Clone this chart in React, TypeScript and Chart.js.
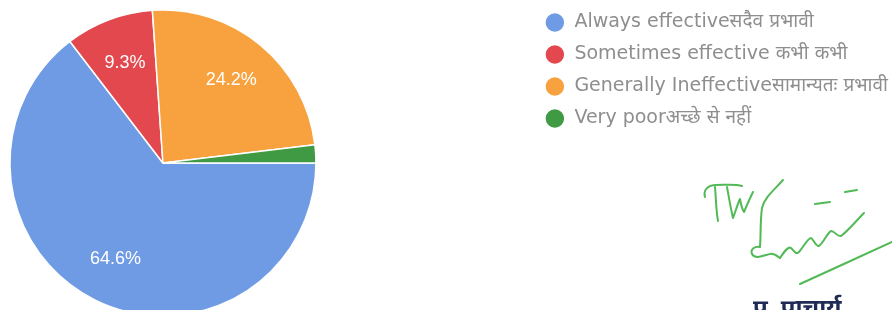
import React, { useEffect, useRef } from "react";
import { Chart, registerables } from "chart.js";

Chart.register(...registerables);

// ---- data ----
const categories: string[] = [
  "Always effectiveसदैव प्रभावी",
  "Sometimes effective कभी कभी",
  "Generally Ineffectiveसामान्यतः प्रभावी",
  "Very poorअच्छे से नहीं",
];
const shares: number[] = [64.6, 9.3, 24.2, 1.9];
const sliceColors: string[] = ["#6f9be5", "#e2484d", "#f7a23f", "#3f9a43"];
const signatureCaption = "प्र. प्राचार्य";

const LABEL_FONT = "'Liberation Sans', Arial, 'Noto Sans', sans-serif";
const LEGEND_FONT = "'DejaVu Sans', 'Noto Sans', sans-serif";

const sliceLabels = {
  id: "sliceLabels",
  afterDatasetsDraw(chart: any) {
    const meta = chart.getDatasetMeta(0);
    const data = chart.data.datasets[0].data as number[];
    const total = data.reduce((a: number, b: number) => a + b, 0);
    const ctx = chart.ctx as CanvasRenderingContext2D;
    ctx.save();
    ctx.fillStyle = "#ffffff";
    ctx.font = `18px ${LABEL_FONT}`;
    ctx.textAlign = "center";
    ctx.textBaseline = "middle";
    meta.data.forEach((arc: any, i: number) => {
      const pct = (data[i] / total) * 100;
      if (pct < 5) return;
      const p = arc.getProps(["x", "y", "startAngle", "endAngle", "outerRadius"], true);
      const mid = (p.startAngle + p.endAngle) / 2;
      const r = p.outerRadius * 0.7;
      ctx.fillText(pct.toFixed(1) + "%", p.x + Math.cos(mid) * r, p.y + Math.sin(mid) * r);
    });
    ctx.restore();
  },
};

export default function App() {
  const canvasRef = useRef<HTMLCanvasElement | null>(null);

  useEffect(() => {
    if (!canvasRef.current) return;
    const chart = new Chart(canvasRef.current, {
      type: "pie",
      data: {
        labels: categories,
        datasets: [
          {
            data: shares,
            backgroundColor: sliceColors,
            borderColor: "#ffffff",
            borderWidth: 1.5,
            radius: 153,
          } as any,
        ],
      },
      options: {
        responsive: false,
        animation: false,
        rotation: 90,
        layout: { padding: 0 },
        plugins: {
          tooltip: { enabled: false },
          legend: {
            display: true,
            position: "right",
            align: "start",
            labels: {
              usePointStyle: true,
              pointStyle: "circle",
              boxHeight: 14,
              pointStyleWidth: 20,
              padding: 13,
              color: "#8e8e8e",
              font: { size: 19, family: LEGEND_FONT },
            },
          },
        },
      } as any,
      plugins: [sliceLabels],
    });
    return () => chart.destroy();
  }, []);

  return (
    <div
      style={{
        position: "fixed",
        left: 0,
        top: 0,
        width: 892,
        height: 310,
        overflow: "hidden",
        background: "#ffffff",
      }}
    >
      <canvas
        ref={canvasRef}
        width={1104}
        height={326}
        style={{ position: "absolute", left: -206, top: 0, width: 1104, height: 326 }}
      />
      <svg
        width={892}
        height={310}
        style={{ position: "absolute", left: 0, top: 0 }}
        fill="none"
        stroke="#52b957"
        strokeWidth={2}
        strokeLinecap="round"
        strokeLinejoin="round"
      >
        <path d="M705 197 C703 190 708 185 716 185 C726 185 736 184 742 186" />
        <path d="M715 187 C716 198 716 210 718 221" />
        <path d="M727 187 C729 198 731 210 733 218 C736 210 738 203 740 199 C741 205 742 209 744 212 C747 205 750 198 753 192" />
        <path d="M783 180 C774 190 764 198 762 208 C760 222 761 236 760 247 C755 246 750 249 752 254 C755 260 765 255 770 254 C774 253 777 256 780 258" />
        <path d="M780 258 C784 252 788 246 791 248 C794 251 796 255 799 252 C804 246 808 238 811 238 C814 240 816 247 819 246 C824 242 828 232 831 231 C835 231 837 237 841 236 C848 231 856 221 864 213" />
        <path d="M815 204 L830 202" />
        <path d="M845 192 L857 190" />
        <path d="M800 284 C830 270 862 256 892 242" />
      </svg>
      <div
        style={{
          position: "absolute",
          left: 753,
          top: 292,
          fontFamily: "'Noto Sans', sans-serif",
          fontWeight: 700,
          fontSize: 24,
          lineHeight: "30px",
          color: "#1f2a55",
          whiteSpace: "nowrap",
        }}
      >
        {signatureCaption}
      </div>
    </div>
  );
}
